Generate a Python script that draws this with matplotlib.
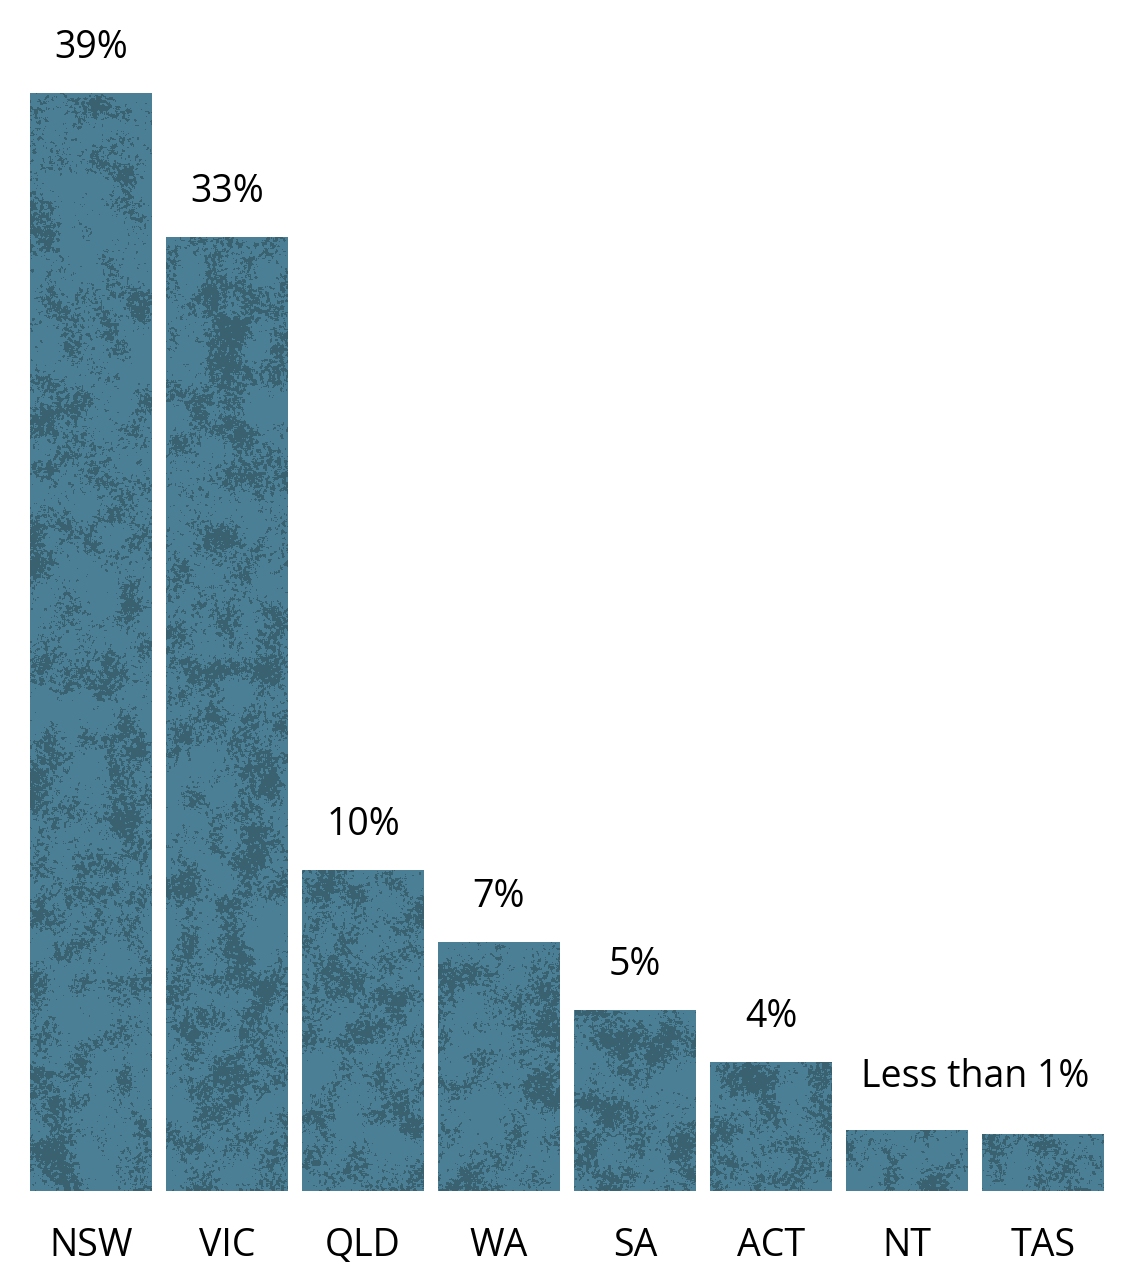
import matplotlib.pyplot as plt
import matplotlib.colors as mcolors
import numpy as np

plt.rcParams['font.family'] = ['Open Sans', 'DejaVu Sans']

# data
states = ['NSW', 'VIC', 'QLD', 'WA', 'SA', 'ACT', 'NT', 'TAS']
bar_heights = [39, 33.9, 11.4, 8.84, 6.43, 4.58, 2.17, 2.02]
value_labels = ['39%', '33%', '10%', '7%', '5%', '4%', None, None]
small_label = 'Less than 1%'

base_col = '#4a7f96'
dark_col = '#3a6170'

fig = plt.figure(figsize=(11.30, 12.63), dpi=100)
W, H = 1130, 1263
step = 136.0
x0 = 91.0
ax = fig.add_axes([0, 72 / H, 1, 1191 / H])
xl = (-x0 / step, (W - x0) / step)
ax.set_xlim(xl)
ymax = 1191 / 1098 * 39
ax.set_ylim(0, ymax)
ax.axis('off')

x = np.arange(len(states))
width = 0.89
bars = ax.bar(x, bar_heights, width=width, color=base_col, zorder=2)


def box_blur(a, r):
    # simple box blur with cumulative sums
    for axis in (0, 1):
        a = np.swapaxes(a, 0, axis)
        p = np.pad(a, ((r + 1, r), (0, 0)), mode='edge')
        c = np.cumsum(p, axis=0)
        a = (c[2 * r + 1:] - c[:-2 * r - 1]) / (2 * r + 1)
        a = np.swapaxes(a, 0, axis)
    return a


# grunge texture (styling only)
rng = np.random.default_rng(7)
fine = box_blur(rng.random((1191, 1130)), 1)
coarse = rng.random((80, 76))
coarse = box_blur(np.kron(coarse, np.ones((15, 15)))[:1191, :1130], 10)
tex = fine + 0.6 * coarse
mask = tex > np.quantile(tex, 0.72)
rgba = np.zeros(mask.shape + (4,))
rgba[..., :3] = mcolors.to_rgb(dark_col)
rgba[..., 3] = mask
for b in bars:
    im = ax.imshow(rgba, extent=(xl[0], xl[1], 0, ymax), aspect='auto',
                   interpolation='nearest', zorder=3)
    im.set_clip_path(b)

px = 39 / 1098  # data units per pixel (vertical)
for xi, h, lab in zip(x, bar_heights, value_labels):
    if lab:
        ax.text(xi, h + 35 * px, lab, ha='center', va='baseline', fontsize=27)
ax.text((x[6] + x[7]) / 2, bar_heights[6] + 43 * px, small_label,
        ha='center', va='baseline', fontsize=27)

for xi, s in zip(x, states):
    ax.text(xi, -65 * px, s, ha='center', va='baseline', fontsize=27, clip_on=False)

ax.set_xlim(xl)
fig.savefig('out.png', dpi=100)
